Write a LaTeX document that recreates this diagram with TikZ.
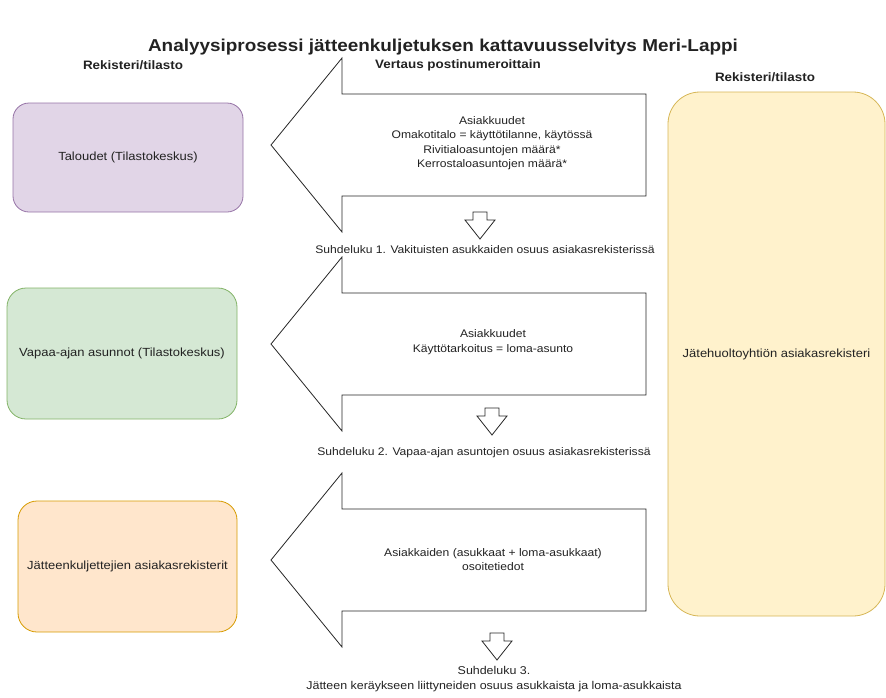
\documentclass[tikz,border=0pt]{standalone}
\usepackage{fontspec}
\setmainfont{Liberation Sans}[FakeStretch=1.1]
\usetikzlibrary{positioning}

\definecolor{taloFill}{HTML}{E1D5E7}
\definecolor{taloLine}{HTML}{9673A6}
\definecolor{vapaaFill}{HTML}{D5E8D4}
\definecolor{vapaaLine}{HTML}{82B366}
\definecolor{kuljFill}{HTML}{FFE6CC}
\definecolor{kuljLine}{HTML}{D79B00}
\definecolor{rekFill}{HTML}{FFF2CC}
\definecolor{rekLine}{HTML}{D6B656}
\definecolor{txt}{HTML}{222222}

\begin{document}
\begin{tikzpicture}[x=1pt,y=-1pt,
  every node/.style={text=txt, inner sep=0pt},
  regbox/.style={draw, line width=0.8pt, rounded corners=17pt, align=center,
    font=\fontsize{11.8}{14}\selectfont},
  bodytext/.style={align=center, font=\fontsize{11}{14.5}\selectfont},
  headtext/.style={font=\bfseries\fontsize{12.2}{14}\selectfont},
  blockarrow/.style={draw=black!85, line width=0.8pt, fill=white}]
\useasboundingbox (0,0) rectangle (886,697);

% otsikko
\node (title) [font=\bfseries\fontsize{17.2}{19}\selectfont] at (443,47.5)
  {Analyysiprosessi jätteenkuljetuksen kattavuusselvitys Meri-Lappi};
\node (headL) [headtext] at (133,65) {Rekisteri/tilasto};
\node (headM) [headtext] at (458,65) {Vertaus postinumeroittain};
\node (headR) [headtext] at (765,77) {Rekisteri/tilasto};

% isot nuolet
\foreach \yc in {145,344,560}
  \draw [blockarrow] (342,{\yc-87}) -- (271,\yc) -- (342,{\yc+87}) -- (342,{\yc+51})
    -- (646,{\yc+51}) -- (646,{\yc-51}) -- (342,{\yc-51}) -- cycle;

% pienet nuolet
\foreach \xc/\yt in {480/212,492/408,497/633}
  \draw [blockarrow] ({\xc-7},\yt) -- ({\xc+7},\yt) -- ({\xc+7},{\yt+8})
    -- ({\xc+15},{\yt+8}) -- (\xc,{\yt+27}) -- ({\xc-15},{\yt+8})
    -- ({\xc-7},{\yt+8}) -- cycle;

% rekisterit
\node (talo) [regbox, fill=taloFill, draw=taloLine, minimum width=230pt,
  minimum height=109pt, rounded corners=16pt] at (128,157.5) {Taloudet (Tilastokeskus)};
\node (vapaa) [regbox, fill=vapaaFill, draw=vapaaLine, minimum width=230pt,
  minimum height=131pt, rounded corners=19pt] at (122,353.5) {Vapaa-ajan asunnot (Tilastokeskus)};
\node (kulj) [regbox, fill=kuljFill, draw=kuljLine, minimum width=219pt,
  minimum height=131pt, rounded corners=19pt] at (127.5,566.5) {Jätteenkuljettejien asiakasrekisterit};
\node (rek) [regbox, fill=rekFill, draw=rekLine, minimum width=217pt,
  minimum height=524pt, rounded corners=32pt] at (776.5,354) {Jätehuoltoyhtiön asiakasrekisteri};

% nuolten tekstit
\node (vert1) [bodytext] at (492,143) {Asiakkuudet\\Omakotitalo = käyttötilanne, käytössä\\
  Rivitialoasuntojen määrä*\\Kerrostaloasuntojen määrä*};
\node (vert2) [bodytext] at (493,342) {Asiakkuudet\\Käyttötarkoitus = loma-asunto};
\node (vert3) [bodytext] at (493,559.5) {Asiakkaiden (asukkaat + loma-asukkaat)\\osoitetiedot};

% suhdeluvut
\node (suhde1) [bodytext] at (485,250) {Suhdeluku 1. Vakituisten asukkaiden osuus asiakasrekisterissä};
\node (suhde2) [bodytext] at (484,453) {Suhdeluku 2. Vapaa-ajan asuntojen osuus asiakasrekisterissä};
\node (suhde3) [bodytext, font=\fontsize{11.3}{15}\selectfont] at (494,679.5) {Suhdeluku 3.\\Jätteen keräykseen liittyneiden osuus asukkaista ja loma-asukkaista};
\end{tikzpicture}
\end{document}
